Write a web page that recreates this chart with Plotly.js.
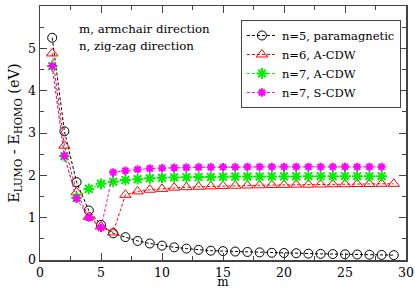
<!DOCTYPE html>
<html>
<head>
<meta charset="utf-8">
<script src="https://cdn.plot.ly/plotly-3.0.1.min.js"></script>
<style>html,body{margin:0;padding:0;background:#fff;}#chart{width:415px;height:289px;}</style>
</head>
<body>
<div id="chart"></div>
<script>
// m values
var m5 = [1,2,3,4,5,6,7,8,9,10,11,12,13,14,15,16,17,18,19,20,21,22,23,24,25,26,27,28,29];
var gap5 = [5.25,3.04,1.84,1.17,0.83,0.63,0.54,0.45,0.39,0.34,0.30,0.27,0.24,0.22,0.21,0.20,0.19,0.18,0.17,0.165,0.16,0.15,0.145,0.14,0.135,0.13,0.125,0.12,0.115];

var m6 = [1,2,3,4,5,6,7,8,9,10,11,12,13,14,15,16,17,18,19,20,21,22,23,24,25,26,27,28,29];
var gap6 = [4.88,2.70,1.60,1.02,0.79,0.65,1.54,1.62,1.66,1.68,1.71,1.72,1.73,1.74,1.75,1.755,1.76,1.765,1.77,1.775,1.78,1.78,1.785,1.79,1.79,1.795,1.795,1.80,1.80];

var m7a = [1,2,3,4,5,6,7,8,9,10,11,12,13,14,15,16,17,18,19,20,21,22,23,24,25,26,27,28];
var gap7a = [4.58,2.45,1.47,1.68,1.80,1.85,1.89,1.91,1.93,1.94,1.95,1.955,1.96,1.96,1.965,1.97,1.97,1.97,1.975,1.975,1.975,1.98,1.98,1.98,1.98,1.98,1.98,1.98];

var m7s = [1,2,3,4,5,6,7,8,9,10,11,12,13,14,15,16,17,18,19,20,21,22,23,24,25,26,27,28];
var gap7s = [4.58,2.46,1.45,1.00,0.76,2.07,2.11,2.14,2.16,2.17,2.18,2.185,2.19,2.19,2.195,2.195,2.20,2.20,2.20,2.20,2.20,2.20,2.20,2.20,2.20,2.20,2.20,2.20];

var names = ["n=5, paramagnetic","n=6, A-CDW","n=7, A-CDW","n=7, S-CDW"];
var xTickVals = [0,5,10,15,20,25,30];
var yTickVals = [0,1,2,3,4,5,6];

var SERIF = "DejaVu Serif";

var traces = [
  {x:m5, y:gap5, name:names[0], mode:'lines+markers',
   line:{color:'#000', width:1, dash:'3px,2px'},
   marker:{symbol:'circle-open', size:9, color:'#000', line:{width:1}}},
  {x:m6, y:gap6, name:names[1], mode:'lines+markers',
   line:{color:'#ff0000', width:1, dash:'3px,2px'},
   marker:{symbol:'triangle-up-open', size:10, color:'#ff0000', line:{width:1}}},
  {x:m7a, y:gap7a, name:names[2], mode:'lines+markers',
   line:{color:'#00ee00', width:1, dash:'3px,2px'},
   marker:{symbol:'asterisk-open', size:9, color:'#00ee00', line:{color:'#00ee00', width:2}}},
  {x:m7s, y:gap7s, name:names[3], mode:'lines+markers',
   line:{color:'#ff00ff', width:1, dash:'3px,2px'},
   marker:{symbol:'asterisk-open', size:7, color:'#ff00ff', line:{color:'#ff00ff', width:2}}}
];

function axisBase() {
  return {
    showline:true, linecolor:'#444', linewidth:1.5, mirror:'ticks',
    ticks:'inside', ticklen:7, tickcolor:'#444', tickwidth:1,
    showgrid:false, zeroline:false,
    tickfont:{family:SERIF, size:12.5, color:'#000'}
  };
}

var xaxis = axisBase();
xaxis.range = [0,30];
xaxis.tickvals = xTickVals;
xaxis.ticktext = xTickVals.map(String);
xaxis.minor = {dtick:2.5, tick0:0, ticks:'inside', ticklen:4, tickcolor:'#444', showgrid:false};
xaxis.title = {text:'m', font:{family:SERIF, size:12, color:'#000'}, standoff:0};

var yaxis = axisBase();
yaxis.range = [0,6];
yaxis.tickvals = yTickVals;
yaxis.ticktext = yTickVals.map(String);
yaxis.minor = {dtick:0.5, tick0:0, ticks:'inside', ticklen:4, tickcolor:'#444', showgrid:false};
yaxis.title = {text:'E<sub>LUMO</sub> - E<sub>HOMO</sub> (eV)', font:{family:SERIF, size:14.5, color:'#000'}, standoff:5};

var layout = {
  width:415, height:289,
  margin:{l:40, r:9, t:6, b:29},
  paper_bgcolor:'#fff', plot_bgcolor:'#fff',
  font:{family:SERIF, color:'#000'},
  showlegend:true,
  legend:{x:0.549, y:0.945, xanchor:'left', yanchor:'top',
          bgcolor:'#fff', bordercolor:'#444', borderwidth:1,
          font:{family:SERIF, size:11.5, color:'#000'},
          tracegroupgap:0, itemwidth:30},
  xaxis: xaxis,
  yaxis: yaxis,
  annotations:[
    {text:'m, armchair direction', xref:'paper', yref:'paper', x:0.1, y:0.91, xanchor:'left', yanchor:'middle', showarrow:false,
     font:{family:SERIF, size:11.8, color:'#000'}},
    {text:'n, zig-zag direction', xref:'paper', yref:'paper', x:0.1, y:0.843, xanchor:'left', yanchor:'middle', showarrow:false,
     font:{family:SERIF, size:11.8, color:'#000'}}
  ]
};

Plotly.newPlot('chart', traces, layout, {displayModeBar:false, staticPlot:true});
</script>
</body>
</html>
